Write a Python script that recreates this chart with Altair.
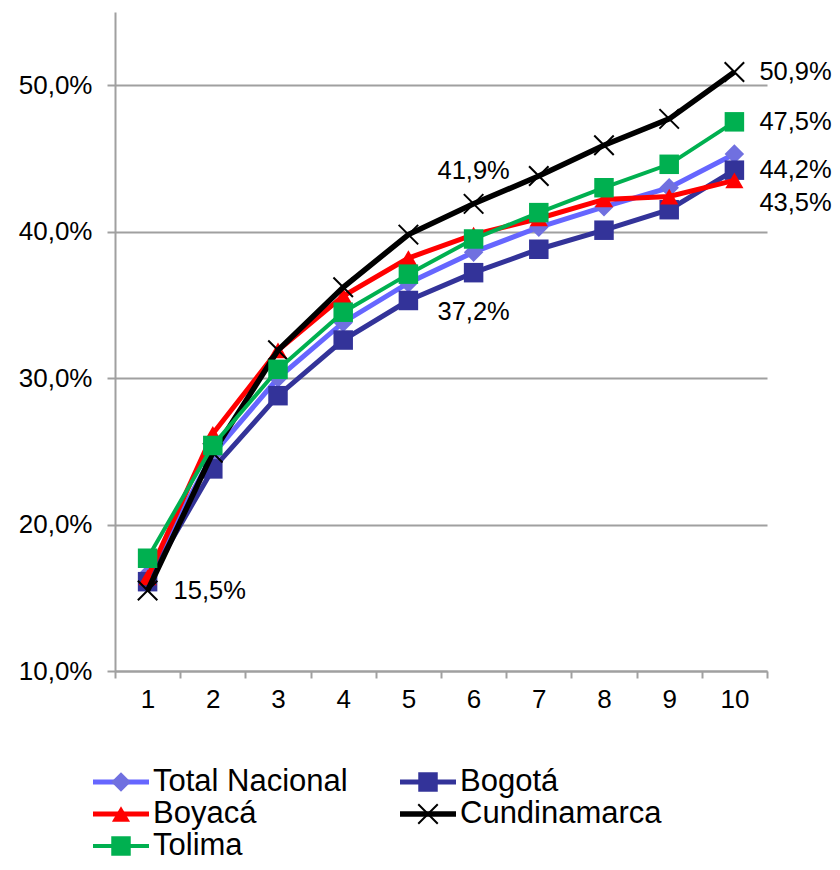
import altair as alt
import pandas as pd

# ---------------- data ----------------
deciles = list(range(1, 11))
series_names = ["Total Nacional", "Bogotá", "Boyacá", "Cundinamarca", "Tolima"]
total_nacional = [16.6, 24.8, 30.0, 33.8, 36.5, 38.6, 40.3, 41.7, 43.0, 45.3]
bogota = [16.1, 23.8, 28.8, 32.6, 35.3, 37.2, 38.8, 40.1, 41.5, 44.2]
boyaca = [16.4, 26.2, 31.9, 35.6, 38.2, 39.8, 40.9, 42.2, 42.4, 43.5]
cundinamarca = [15.5, 24.9, 31.9, 36.2, 39.8, 41.9, 43.8, 45.9, 47.7, 50.9]
tolima = [17.7, 25.4, 30.6, 34.5, 37.1, 39.5, 41.3, 43.0, 44.6, 47.5]
y_ticks = [10, 20, 30, 40, 50]

# data labels: which series / decile is annotated
label_series = ["Cundinamarca", "Cundinamarca", "Bogotá", "Cundinamarca", "Tolima", "Bogotá", "Boyacá"]
label_decile = [1, 6, 6, 10, 10, 10, 10]

# ---------------- styles ----------------
FONT = "Liberation Sans"
GRID = "#A0A0A0"
X_PATH = "M-1,-1L1,1M-1,1L1,-1"
styles = {
    "Total Nacional": dict(line="#6666FF", marker="#7070E0", shape="diamond", size=380, width=5),
    "Bogotá": dict(line="#333399", marker="#333399", shape="square", size=380, width=5),
    "Boyacá": dict(line="#FF0000", marker="#FF0000", shape="triangle-up", size=330, width=5),
    "Cundinamarca": dict(line="#000000", marker="#000000", shape=X_PATH, size=380, width=5.5),
    "Tolima": dict(line="#00B050", marker="#00B050", shape="square", size=380, width=4),
}
# (align, dx, dy) per data label
label_offsets = [("left", 26, 1), ("center", 0, -33), ("center", 0, 39),
                 ("left", 25, 0), ("left", 25, 0), ("left", 25, 0), ("left", 25, 23)]

values = {
    "Total Nacional": total_nacional,
    "Bogotá": bogota,
    "Boyacá": boyaca,
    "Cundinamarca": cundinamarca,
    "Tolima": tolima,
}
rows = []
for name in series_names:
    for d, v in zip(deciles, values[name]):
        rows.append({"serie": name, "decil": d, "valor": v})
df = pd.DataFrame(rows)

x_enc = alt.X(
    "decil:O",
    scale=alt.Scale(type="band", paddingInner=0, paddingOuter=0),
    axis=alt.Axis(
        title=None, labelAngle=0, tickBand="extent", grid=False,
        domainColor=GRID, domainWidth=2, tickColor=GRID, tickWidth=2, tickSize=7,
        labelFontSize=26, labelFont=FONT, labelColor="black", labelPadding=8,
    ),
)
y_enc = alt.Y(
    "valor:Q",
    scale=alt.Scale(domain=[10, 55], nice=False, zero=False),
    axis=alt.Axis(
        title=None, values=y_ticks,
        labelExpr="replace(format(datum.value / 100, '.1%'), '.', ',')",
        grid=True, gridColor=GRID, gridWidth=2,
        domainColor=GRID, domainWidth=2, tickColor=GRID, tickWidth=2, tickSize=8,
        labelFontSize=26, labelFont=FONT, labelColor="black", labelPadding=15,
    ),
)

base = alt.Chart(df)
layers = []
for name in series_names:
    st = styles[name]
    flt = alt.FieldEqualPredicate(field="serie", equal=name)
    layers.append(
        base.transform_filter(flt).mark_line(color=st["line"], strokeWidth=st["width"])
        .encode(x=x_enc, y=y_enc)
    )
    if name == "Cundinamarca":
        pt = base.transform_filter(flt).mark_point(
            shape=st["shape"], size=st["size"], filled=False, stroke="black",
            strokeWidth=2, opacity=1)
    else:
        pt = base.transform_filter(flt).mark_point(
            shape=st["shape"], size=st["size"], filled=True, color=st["marker"], opacity=1)
    layers.append(pt.encode(x=x_enc, y=y_enc))

lab_rows = []
for s, d in zip(label_series, label_decile):
    v = values[s][deciles.index(d)]
    lab_rows.append({"serie": s, "decil": d, "valor": v,
                     "txt": f"{v:.1f}".replace(".", ",") + "%"})
lab_df = pd.DataFrame(lab_rows)
for i, (al, dx, dy) in enumerate(label_offsets):
    layers.append(
        alt.Chart(lab_df.iloc[[i]]).mark_text(
            align=al, baseline="middle", dx=dx, dy=dy, fontSize=25.5, font=FONT, color="black"
        ).encode(x=x_enc, y=y_enc, text="txt:N")
    )

main = alt.layer(*layers).properties(width=652, height=659)

# ---------------- legend panel ----------------
leg_df = pd.DataFrame({
    "serie": series_names,
    "col": [i % 2 for i in range(len(series_names))],
    "row": [i // 2 for i in range(len(series_names))],
})
lx = alt.X("col:Q", scale=alt.Scale(domain=[0, 1], range=[6, 313]), axis=None)
ly = alt.Y("row:Q", scale=alt.Scale(domain=[0, 2], range=[0, 64]), axis=None)
leg_layers = []
for name in series_names:
    st = styles[name]
    flt = alt.FieldEqualPredicate(field="serie", equal=name)
    lb = alt.Chart(leg_df).transform_filter(flt)
    leg_layers.append(
        lb.mark_rule(color=st["line"], strokeWidth=st["width"], xOffset=-28, x2Offset=28)
        .encode(x=lx, x2="col:Q", y=ly)
    )
    if name == "Cundinamarca":
        m = lb.mark_point(shape=st["shape"], size=st["size"], filled=False,
                          stroke="black", strokeWidth=2, opacity=1)
    else:
        m = lb.mark_point(shape=st["shape"], size=st["size"], filled=True,
                          color=st["marker"], opacity=1)
    leg_layers.append(m.encode(x=lx, y=ly))
leg_layers.append(
    alt.Chart(leg_df).mark_text(align="left", baseline="middle", dx=32,
                                fontSize=31, font=FONT, color="black")
    .encode(x=lx, y=ly, text="serie:N")
)
legend = alt.layer(*leg_layers).properties(width=652, height=64)

chart = (
    alt.vconcat(main, legend, spacing=54)
    .properties(padding={"left": 10, "top": 4, "right": 0, "bottom": 0})
    .configure_view(stroke=None)
)
chart.save("out.html", embed_options={"renderer": "svg", "actions": False})
